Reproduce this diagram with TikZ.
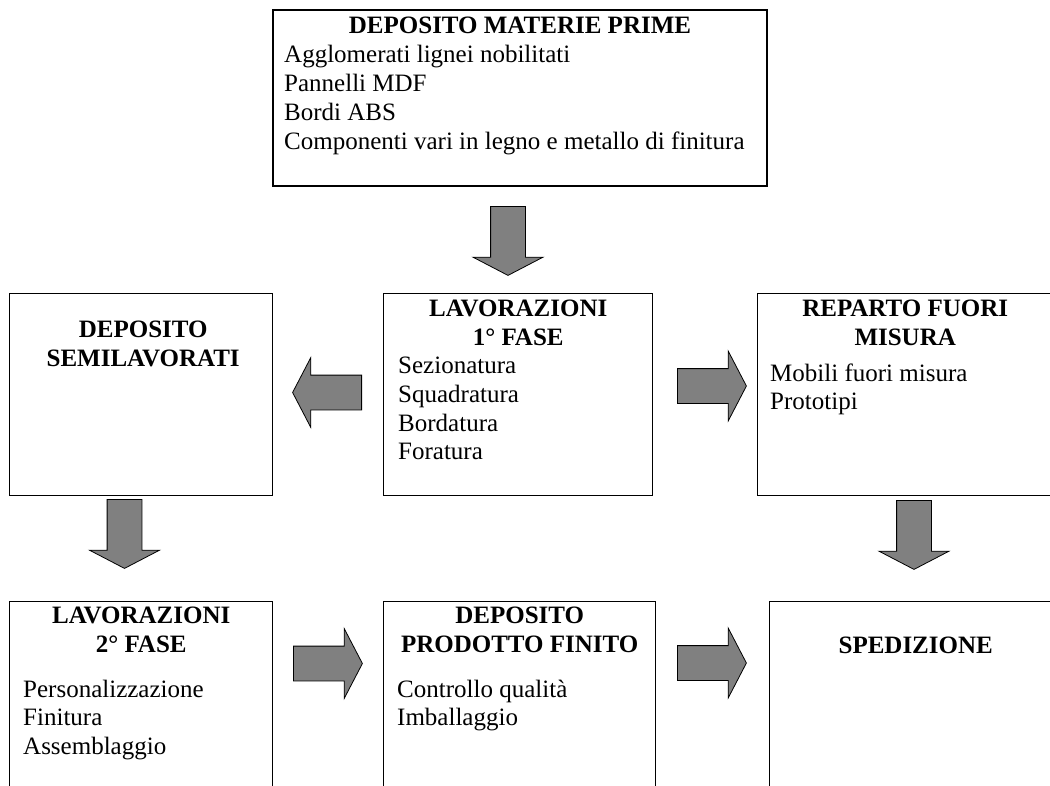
\documentclass[tikz,border=0pt]{standalone}
\usepackage{fontspec}
\setmainfont{Liberation Serif}
\usetikzlibrary{shapes.arrows}
\definecolor{arrowgray}{HTML}{808080}
\tikzset{
    stagebox/.style={draw=black, line width=1.4pt, inner sep=0pt, anchor=north west},
    stagehead/.style={font=\fontsize{25}{28.75}\selectfont\bfseries, align=center, inner sep=0pt, anchor=base},
    stagelist/.style={font=\fontsize{25}{28.75}\selectfont, align=left, inner sep=0pt, anchor=base west},
    flowarrow/.style={single arrow, draw=black, fill=arrowgray, line width=0.8pt,
                      inner xsep=0pt, inner ysep=17pt, anchor=tail,
                      minimum height=69pt, minimum width=69pt, single arrow head extend=17.5pt,
                      single arrow tip angle=125, single arrow head indent=0pt}
}

\begin{document}
\begin{tikzpicture}
  [
    x = 1pt,
    y = -1pt,
  ]
  \useasboundingbox (0,0) rectangle (1050,785);
  \clip (0,0) rectangle (1050,785);

  \node [stagebox, line width=2pt, minimum width=494pt, minimum height=176pt] (dmp) at (272,9) {};
  \node [stagehead] (dmphead) at ([yshift=-24pt]dmp.north) {DEPOSITO MATERIE PRIME};
  \node [stagelist] (dmplist) at ([xshift=12pt,yshift=-140pt]dmp.north west)
    {Agglomerati lignei nobilitati\\Pannelli MDF\\Bordi ABS\\Componenti vari in legno e metallo di finitura};

  \node [stagebox, minimum width=263pt, minimum height=202pt] (dsl) at (9,293) {};
  \node [stagehead] (dslhead) at ([xshift=2pt,yshift=-73pt]dsl.north) {DEPOSITO\\SEMILAVORATI};

  \node [stagebox, minimum width=269pt, minimum height=202pt] (lav1) at (383,293) {};
  \node [stagehead] (lav1head) at ([yshift=-52pt]lav1.north) {LAVORAZIONI\\1° FASE};
  \node [stagelist] (lav1list) at ([xshift=15pt,yshift=-166.75pt]lav1.north west)
    {Sezionatura\\Squadratura\\Bordatura\\Foratura};

  \node [stagebox, minimum width=295pt, minimum height=202pt] (rfm) at (757,293) {};
  \node [stagehead] (rfmhead) at ([yshift=-52.5pt]rfm.north) {REPARTO FUORI\\MISURA};
  \node [stagelist] (rfmlist) at ([xshift=13pt,yshift=-116.75pt]rfm.north west)
    {Mobili fuori misura\\Prototipi};

  \node [stagebox, minimum width=263pt, minimum height=200pt] (lav2) at (9,601) {};
  \node [stagehead] (lav2head) at ([yshift=-51pt]lav2.north) {LAVORAZIONI\\2° FASE};
  \node [stagelist] (lav2list) at ([xshift=14pt,yshift=-153.5pt]lav2.north west)
    {Personalizzazione\\Finitura\\Assemblaggio};

  \node [stagebox, minimum width=272pt, minimum height=200pt] (pf) at (383,601) {};
  \node [stagehead] (pfhead) at ([yshift=-51pt]pf.north) {DEPOSITO\\PRODOTTO FINITO};
  \node [stagelist] (pflist) at ([xshift=14pt,yshift=-124.75pt]pf.north west)
    {Controllo qualità\\Imballaggio};

  \node [stagebox, minimum width=292pt, minimum height=200pt] (spd) at (769,601) {};
  \node [stagehead] (spdhead) at ([yshift=-52pt]spd.north) {SPEDIZIONE};

  \node [flowarrow, rotate=270] (a1) at (508,206) {};
  \node [flowarrow, rotate=180] (a2) at (362,392.5) {};
  \node [flowarrow] (a3) at (677,386) {};
  \node [flowarrow, rotate=270] (a4) at (124.5,499) {};
  \node [flowarrow, rotate=270] (a5) at (914,500) {};
  \node [flowarrow] (a6) at (293,663.5) {};
  \node [flowarrow] (a7) at (677,663) {};
\end{tikzpicture}
\end{document}
